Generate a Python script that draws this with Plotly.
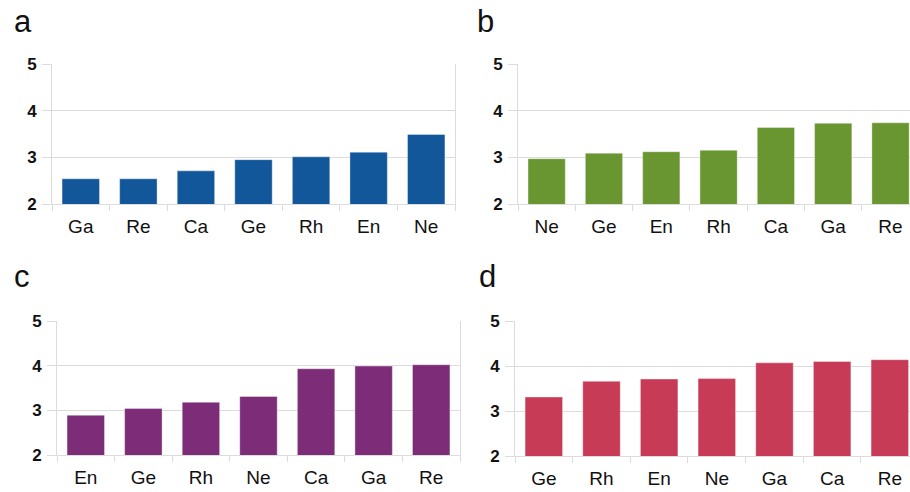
import plotly.graph_objects as go

cats_a = ["Ga", "Re", "Ca", "Ge", "Rh", "En", "Ne"]
vals_a = [2.54, 2.54, 2.71, 2.95, 3.01, 3.11, 3.49]

cats_b = ["Ne", "Ge", "En", "Rh", "Ca", "Ga", "Re"]
vals_b = [2.97, 3.09, 3.12, 3.15, 3.64, 3.73, 3.74]

cats_c = ["En", "Ge", "Rh", "Ne", "Ca", "Ga", "Re"]
vals_c = [2.89, 3.04, 3.18, 3.31, 3.93, 3.99, 4.02]

cats_d = ["Ge", "Rh", "En", "Ne", "Ga", "Ca", "Re"]
vals_d = [3.31, 3.66, 3.71, 3.72, 4.07, 4.10, 4.14]

panel_labels = ["a", "b", "c", "d"]
y_ticks = [2, 3, 4, 5]

W, H = 910, 492
colors = ["#13579b", "#6a9632", "#7d2c78", "#c83b57"]

# plot-area pixel boxes: (left, right, top, bottom) and x-range upper end
boxes = [
    (52, 455, 64, 204, 6.5),
    (518, 910, 64, 204, 6.34),
    (57, 460, 321, 455, 6.5),
    (515, 910, 321, 456, 6.35),
]
letter_pos = [(12, 21), (475, 21), (12, 276), (477, 276)]

data = [(cats_a, vals_a), (cats_b, vals_b), (cats_c, vals_c), (cats_d, vals_d)]

fig = go.Figure()
grid = "#dcdcdc"
for i, ((cats, vals), (l, r, t, b, xr), col) in enumerate(zip(data, boxes, colors)):
    n = i + 1
    xa = "x" if n == 1 else f"x{n}"
    ya = "y" if n == 1 else f"y{n}"
    fig.add_trace(go.Bar(
        x=cats, y=vals, xaxis=xa, yaxis=ya,
        marker=dict(color=col, line=dict(color="rgba(255,255,255,0.6)", width=0.6)),
        showlegend=False, hoverinfo="x+y",
    ))
    xk = "xaxis" if n == 1 else f"xaxis{n}"
    yk = "yaxis" if n == 1 else f"yaxis{n}"
    fig.layout[xk] = dict(
        domain=[l / W, r / W], anchor=ya, type="category", automargin=False,
        range=[-0.5, xr], showgrid=False, showline=True, linecolor=grid, linewidth=1,
        ticks="outside", tickson="boundaries", ticklen=6, tickcolor=grid, tickwidth=1,
        tickfont=dict(family="Liberation Sans, Arial", size=19, color="#111111"),
        ticklabelstandoff=5, fixedrange=True,
    )
    fig.layout[yk] = dict(
        domain=[1 - b / H, 1 - t / H], anchor=xa, automargin=False,
        range=[2, 5], tickvals=y_ticks, showgrid=True, gridcolor=grid, gridwidth=1,
        showline=True, linecolor=grid, linewidth=1, mirror=True,
        ticks="outside", ticklen=9, tickcolor=grid, tickwidth=1,
        tickfont=dict(family="Liberation Sans, Arial", size=17, color="#111111", weight="bold"),
        ticklabelstandoff=2, zeroline=False, fixedrange=True,
    )
    lx, ly = letter_pos[i]
    fig.add_annotation(
        text=panel_labels[i], xref="paper", yref="paper",
        x=lx / W, y=1 - ly / H, xanchor="left", yanchor="middle",
        showarrow=False, font=dict(family="Liberation Sans, Arial", size=31, color="#111111"),
    )

fig.update_layout(
    width=W, height=H, margin=dict(l=0, r=0, t=0, b=0, autoexpand=False), autosize=False,
    plot_bgcolor="white", paper_bgcolor="white", bargap=0.35,
)
fig.write_html(
    "out.html",
    config={"responsive": False, "displayModeBar": False},
    post_script="document.body.style.margin='0';document.body.style.padding='0';"
                "document.body.style.overflow='hidden';",
)
